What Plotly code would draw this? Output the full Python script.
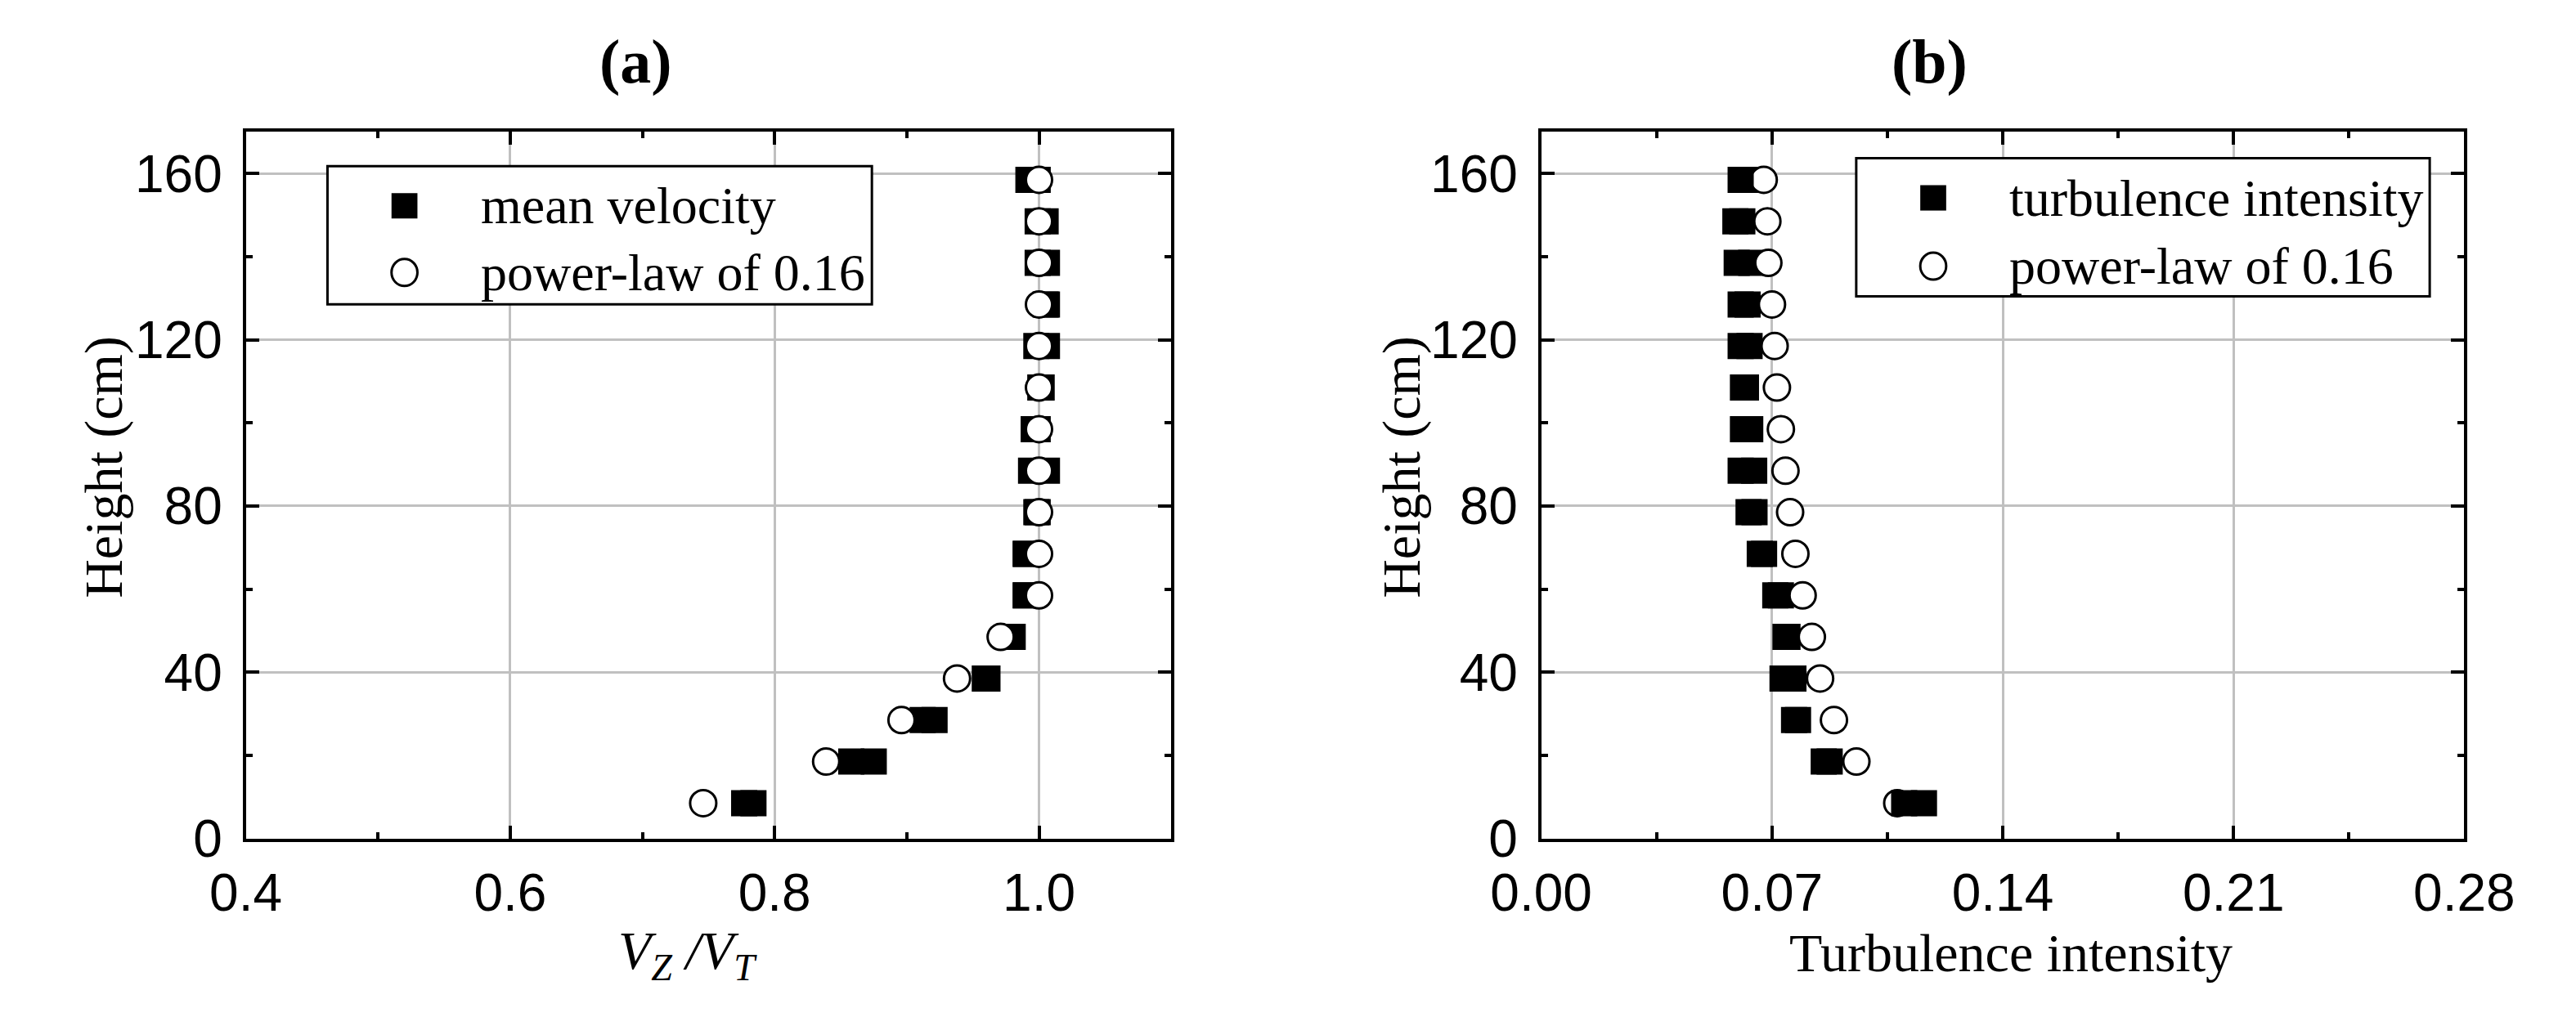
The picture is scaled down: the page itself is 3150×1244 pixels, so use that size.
"""Velocity and turbulence intensity profiles, two panels."""

import plotly.graph_objects as go

W, H = 3150, 1244

# measurement heights, bottom to top
HEIGHT_CM = [8.5, 18.5, 28.5, 38.5, 48.5, 58.5, 68.5, 78.5,
             88.5, 98.5, 108.5, 118.5, 128.5, 138.5, 148.5, 158.5]

# (a) mean velocity V_Z/V_T, two repeated runs (overlapping squares)
VEL_RUN_1 = [0.777, 0.858, 0.912, 0.959, 0.980, 0.990, 0.990, 0.998,
             0.994, 0.996, 1.001, 0.998, 1.005, 0.999, 0.999, 0.992]
VEL_RUN_2 = [0.784, 0.875, 0.921, 0.961, 0.980, 0.990, 0.990, 0.999,
             1.006, 0.999, 1.002, 1.006, 1.006, 1.006, 1.005, 0.999]
VEL_POWER_LAW = [0.746, 0.839, 0.896, 0.938, 0.971, 1.000, 1.000, 1.000,
                 1.000, 1.000, 1.000, 1.000, 1.000, 1.000, 1.000, 1.000]

# (b) turbulence intensity, two repeated runs
TI_RUN_1 = [0.1101, 0.0857, 0.0767, 0.0732, 0.0741, 0.0710, 0.0663, 0.0629,
            0.0605, 0.0612, 0.0612, 0.0605, 0.0605, 0.0593, 0.0589, 0.0605]
TI_RUN_2 = [0.1161, 0.0875, 0.0779, 0.0765, 0.0747, 0.0727, 0.0676, 0.0647,
            0.0646, 0.0634, 0.0621, 0.0632, 0.0626, 0.0637, 0.0610, 0.0621]
TI_POWER_LAW = [0.1080, 0.0956, 0.0888, 0.0846, 0.0821, 0.0793, 0.0771, 0.0755,
                0.0741, 0.0727, 0.0715, 0.0708, 0.0700, 0.0689, 0.0686, 0.0675]

Y_TICKS = [0, 40, 80, 120, 160]
VEL_TICKS = [0.4, 0.6, 0.8, 1.0]
TI_TICKS = [0.00, 0.07, 0.14, 0.21, 0.28]

LEGEND_A = ["mean velocity", "power-law of 0.16"]
LEGEND_B = ["turbulence intensity", "power-law of 0.16"]

SERIF = "Liberation Serif, Times New Roman, serif"
SANS = "Liberation Sans Narrow, Arial Narrow, Liberation Sans, Arial, sans-serif"


def px_x(v):
    return v / W


def px_y(v):
    return 1 - v / H


def axis_style(minor_dtick, **kw):
    """Boxed axis with inward ticks, like the Origin defaults."""

    style = dict(
        showline=True,
        linecolor="black",
        linewidth=4,
        mirror="allticks",
        ticks="inside",
        ticklen=16,
        tickwidth=4,
        tickcolor="black",
        minor=dict(ticks="inside", ticklen=8, tickwidth=4, tickcolor="black",
                   dtick=minor_dtick, showgrid=False),
        showgrid=True,
        gridcolor="#c0c0c0",
        gridwidth=2.5,
        zeroline=False,
        tickfont=dict(family=SANS, size=64, color="black"),
    )
    style.update(kw)
    return style


def squares(x, xa, ya):
    return go.Scatter(x=x, y=HEIGHT_CM, mode="markers", xaxis=xa, yaxis=ya,
                      marker=dict(symbol="square", size=32, color="black"),
                      showlegend=False)


def circles(x, xa, ya):
    return go.Scatter(x=x, y=HEIGHT_CM, mode="markers", xaxis=xa, yaxis=ya,
                      marker=dict(symbol="circle", size=32, color="white",
                                  line=dict(color="black", width=3)),
                      showlegend=False)


def legend_box(left, top, right, bottom, sym_x, text_x, rows, labels):
    """Boxed legend drawn with shapes so the symbols keep their full size."""

    shapes = [
        dict(type="rect", xref="paper", yref="paper",
             x0=px_x(left), x1=px_x(right), y0=px_y(bottom), y1=px_y(top),
             line=dict(color="black", width=3), fillcolor="white", layer="above"),
        dict(type="rect", xref="paper", yref="paper",
             x0=px_x(sym_x - 16.5), x1=px_x(sym_x + 16.5),
             y0=px_y(rows[0] + 16), y1=px_y(rows[0] - 16),
             line=dict(width=0), fillcolor="black", layer="above"),
        dict(type="circle", xref="paper", yref="paper",
             x0=px_x(sym_x - 16.5), x1=px_x(sym_x + 16.5),
             y0=px_y(rows[1] + 17), y1=px_y(rows[1] - 17),
             line=dict(color="black", width=3), fillcolor="white", layer="above"),
    ]
    notes = [
        dict(text=label, xref="paper", yref="paper", x=px_x(text_x), y=px_y(row),
             xanchor="left", yanchor="middle", showarrow=False,
             font=dict(family=SERIF, size=64, color="black"))
        for label, row in zip(labels, rows)
    ]
    return shapes, notes


def text_note(text, x, y, size=66, angle=0):
    return dict(text=text, xref="paper", yref="paper", x=px_x(x), y=px_y(y),
                xanchor="center", yanchor="middle", showarrow=False,
                textangle=angle, font=dict(family=SERIF, size=size, color="black"))


fig = go.Figure()
# panel (a): circles drawn over both runs
fig.add_trace(squares(VEL_RUN_1, "x", "y"))
fig.add_trace(squares(VEL_RUN_2, "x", "y"))
fig.add_trace(circles(VEL_POWER_LAW, "x", "y"))
# panel (b)
fig.add_trace(squares(TI_RUN_2, "x2", "y2"))
fig.add_trace(circles(TI_POWER_LAW, "x2", "y2"))
fig.add_trace(squares(TI_RUN_1, "x2", "y2"))

y_dom = [px_y(1048), px_y(158)]

fig.update_layout(
    width=W,
    height=H,
    margin=dict(l=0, r=0, t=0, b=0),
    paper_bgcolor="white",
    plot_bgcolor="white",
    showlegend=False,
    xaxis=axis_style(0.1, domain=[px_x(240), px_x(1418)], anchor="y",
                     range=[0.4, 1.1], tickvals=VEL_TICKS, tickformat=".1f",
                     ticklabelstandoff=8),
    yaxis=axis_style(20, domain=y_dom, anchor="x", range=[0, 170],
                     tickvals=Y_TICKS, ticklabelstandoff=12),
    xaxis2=axis_style(0.035, domain=[px_x(1889), px_x(3064)], anchor="y2",
                      range=[0, 0.28], tickvals=TI_TICKS, tickformat=".2f",
                      ticklabelstandoff=8),
    yaxis2=axis_style(20, domain=y_dom, anchor="x2", range=[0, 170],
                      tickvals=Y_TICKS, ticklabelstandoff=12),
)

shapes_a, notes_a = legend_box(344, 201, 1037, 375, 442, 537, [251, 335], LEGEND_A)
shapes_b, notes_b = legend_box(2290, 191, 3020, 365, 2388, 2483, [241, 327], LEGEND_B)

titles = [
    text_note("<b>(a)</b>", 737, 70, size=76),
    text_note("<b>(b)</b>", 2383, 70, size=76),
    text_note("Height (cm)", 60, 580, angle=-90),
    text_note("Height (cm)", 1712, 580, angle=-90),
    text_note("<i>V</i><sub><i>Z</i></sub><i> /V</i><sub><i>T</i></sub>", 803, 1194),
    text_note("Turbulence intensity", 2487, 1192),
]

fig.update_layout(shapes=shapes_a + shapes_b,
                  annotations=notes_a + notes_b + titles)

fig.write_html("out.html")
